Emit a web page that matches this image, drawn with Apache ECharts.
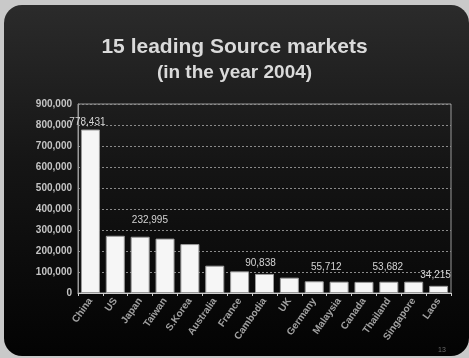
<!DOCTYPE html>
<html>
<head>
<meta charset="utf-8">
<script src="https://cdn.jsdelivr.net/npm/echarts@6/dist/echarts.min.js"></script>
<style>
html,body{margin:0;padding:0;width:469px;height:358px;background:#c9c9c9;overflow:hidden;}
#panel{position:absolute;left:4px;top:5px;width:465px;height:351px;border-radius:18px;
background:linear-gradient(to bottom,#2b2b2b 0%,#151515 45%,#030303 100%);}
#chart{position:absolute;left:0;top:0;width:469px;height:358px;}
</style>
</head>
<body>
<div id="panel"></div>
<div id="chart"></div>
<script>
const categories = ["China","US","Japan","Taiwan","S.Korea","Australia","France","Cambodia","UK","Germany","Malaysia","Canada","Thailand","Singapore","Laos"];
const visitors = [778431,272473,268000,259000,232995,130000,103000,90838,73000,55712,54000,53000,53682,54000,34215];
const labelled = ["China","S.Korea","Cambodia","Germany","Thailand","Laos"];
const yTicks = [0,100000,200000,300000,400000,500000,600000,700000,800000,900000];

const labelOffsets = {"China":[-3,3],"S.Korea":[-40,-14],"Cambodia":[-4,-1],"Germany":[12,-4],"Thailand":[-1,-4],"Laos":[-3,-1]};

const chart = echarts.init(document.getElementById('chart'), null, {renderer:'canvas'});
const fmt = v => v.toLocaleString('en-US');
chart.setOption({
  backgroundColor: 'transparent',
  animation: false,
  title: [
    {text: '15 leading Source markets', left: 'center', top: 32,
     textStyle: {color:'#dadada', fontFamily:'Liberation Sans', fontWeight:'bold', fontSize:21}},
    {text: '(in the year 2004)', left: 'center', top: 58,
     textStyle: {color:'#dadada', fontFamily:'Liberation Sans', fontWeight:'bold', fontSize:19}}
  ],
  grid: {left: 78, right: 18, top: 104, bottom: 65},
  xAxis: {
    type: 'category', data: categories,
    axisLine: {show:true, lineStyle:{color:'#d0d0d0', width:1}},
    axisTick: {show:true, lineStyle:{color:'#d0d0d0'}, length:3},
    axisLabel: {rotate: 55, color:'#a0a0a0', fontSize:10, fontFamily:'Liberation Sans', fontWeight:'bold', margin:6, interval:0}
  },
  yAxis: {
    type: 'value', min: 0, max: 900000, interval: 100000,
    axisLine: {show:true, lineStyle:{color:'#9a9a9a'}},
    axisTick: {show:false},
    splitLine: {show:true, lineStyle:{color:'#8a8a8a', type:[2,2], width:1}},
    axisLabel: {color:'#c4c4c4', fontSize:10, fontFamily:'Liberation Sans', fontWeight:'bold', margin:6,
      formatter: v => yTicks.includes(v) ? fmt(v) : ''}
  },
  series: [{
    type: 'bar',
    barWidth: 19,
    data: categories.map((c,i) => ({
      value: visitors[i],
      label: labelled.includes(c) ? {show:true, position:'top', offset: labelOffsets[c], formatter: fmt(visitors[i]),
        color:'#d4d4d4', fontSize:10, fontFamily:'Liberation Sans'} : {show:false}
    })),
    itemStyle: {color:'#f6f6f6', borderColor:'#9a9a9a', borderWidth:1}
  }],
  graphic: [
    {type:'rect', shape:{x:78, y:104, width:373, height:189}, style:{fill:'none', stroke:'#9a9a9a', lineWidth:1}, silent:true, z:-1},
    {type:'text', left:438, top:347, style:{text:'13', fill:'#6a6a6a', fontSize:7, fontFamily:'Liberation Sans'}}
  ]
});
</script>
</body>
</html>
